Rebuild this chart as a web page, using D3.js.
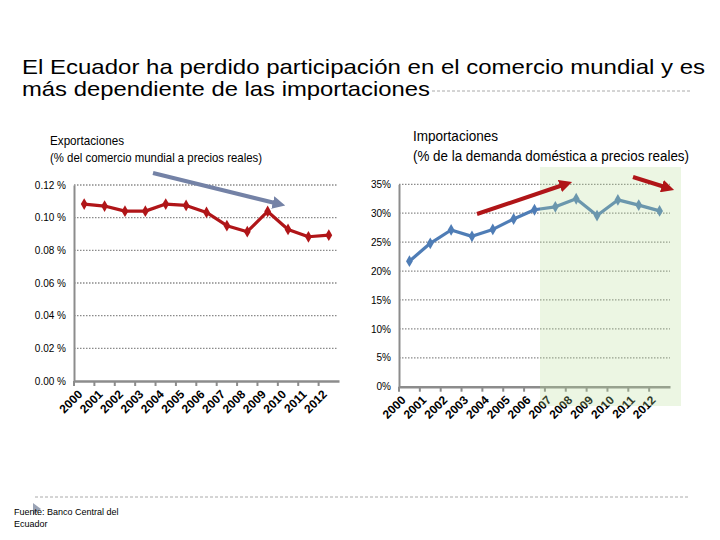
<!DOCTYPE html>
<html><head><meta charset="utf-8">
<script src="https://cdn.jsdelivr.net/npm/d3@7"></script>
<style>body{margin:0;background:#fff}svg{display:block;font-family:"Liberation Sans",Arial,sans-serif}</style>
</head><body><svg id="c" width="720" height="540"></svg>
<script>
const years = ["2000","2001","2002","2003","2004","2005","2006","2007","2008","2009","2010","2011","2012"];
const exportShare = [0.1083,0.1071,0.1040,0.1040,0.1083,0.1075,0.1032,0.0951,0.0914,0.1038,0.0928,0.0883,0.0893];
const importShare = [21.7,24.8,27.1,26.0,27.2,29.0,30.6,31.1,32.5,29.6,32.3,31.4,30.4];
const leftTicks = [0,0.02,0.04,0.06,0.08,0.10,0.12];
const rightTicks = [0,5,10,15,20,25,30,35];
const titleLines = ["El Ecuador ha perdido participación en el comercio mundial y es","más dependiente de las importaciones"];
const titleWidths = [683,408];
const sourceLines = ["Fuente: Banco Central del","Ecuador"];

const svg = d3.select("#c");
const defs = svg.append("defs");
function marker(id,color){
  defs.append("marker").attr("id",id).attr("viewBox","0 0 10 10").attr("refX",5).attr("refY",5)
    .attr("markerWidth",3.2).attr("markerHeight",3.2).attr("orient","auto")
    .append("path").attr("d","M0,0L10,5L0,10z").attr("fill",color);
}
marker("ag","#7482a6"); marker("ar","#b01518");

// Title
svg.selectAll(".tt").data(titleLines).join("text").attr("x",22).attr("y",(d,i)=>74+i*22)
  .attr("font-size",21).attr("fill","#000")
  .attr("textLength",(d,i)=>titleWidths[i]).attr("lengthAdjust","spacingAndGlyphs").text(d=>d);
svg.append("line").attr("x1",432).attr("x2",690).attr("y1",91).attr("y2",91).attr("stroke","#aaa").attr("stroke-dasharray","3,2");
svg.append("line").attr("x1",35).attr("x2",690).attr("y1",497).attr("y2",497).attr("stroke","#aaa").attr("stroke-dasharray","3,2");

// Source
svg.append("path").attr("d","M33,503L41,509L33,515z").attr("fill","#9aa3b5");
svg.selectAll(".src").data(sourceLines).join("text").attr("x",14).attr("y",(d,i)=>515+i*12)
  .attr("font-size",9).attr("fill","#000").text(d=>d);

// Subtitles
svg.append("text").attr("x",50).attr("y",145).attr("font-size",13).attr("textLength",74).attr("lengthAdjust","spacingAndGlyphs").text("Exportaciones");
svg.append("text").attr("x",50).attr("y",162).attr("font-size",13).attr("textLength",212).attr("lengthAdjust","spacingAndGlyphs").text("(% del comercio mundial a precios reales)");
svg.append("text").attr("x",413).attr("y",141).attr("font-size",15).attr("textLength",85).attr("lengthAdjust","spacingAndGlyphs").text("Importaciones");
svg.append("text").attr("x",413).attr("y",161).attr("font-size",14).attr("textLength",276).attr("lengthAdjust","spacingAndGlyphs").text("(% de la demanda doméstica a precios reales)");

function chart(opts){
  const {x0,x1,yTop,yBot,gridEnd,ymax,ticks,fmt,values,color,labelX} = opts;
  const x = d3.scaleBand().domain(years).range([x0,x1]);
  const y = d3.scaleLinear().domain([0,ymax]).range([yBot,yTop]);
  const g = svg.append("g");
  g.selectAll(".grid").data(ticks.filter(t=>t>0)).join("line")
    .attr("x1",x0).attr("x2",gridEnd).attr("y1",d=>y(d)).attr("y2",d=>y(d))
    .attr("stroke","#8a8a8a").attr("stroke-width",1.3).attr("stroke-dasharray","1.5,1.5");
  const ya = d3.axisLeft(y).tickValues(ticks).tickFormat(fmt).tickSize(0).tickPadding(8);
  const yg = g.append("g").attr("transform",`translate(${x0},0)`).call(ya);
  yg.select(".domain").attr("stroke","#8c8c8c").attr("stroke-width",2);
  yg.selectAll("text").attr("font-size",10).attr("font-family","Liberation Sans, Arial").attr("fill","#000");
  const xa = d3.axisBottom(x).tickSize(5).tickSizeOuter(0).tickFormat(d=>d);
  const xg = g.append("g").attr("transform",`translate(0,${yBot})`).call(xa);
  xg.select(".domain").attr("stroke","#8c8c8c").attr("stroke-width",2.5);
  xg.selectAll(".tick line").attr("stroke","#8c8c8c").attr("stroke-width",2).attr("transform",`translate(${-x.bandwidth()/2},0)`);
  xg.selectAll(".tick text").attr("font-size",12).attr("font-weight","bold").attr("fill","#000")
    .attr("text-anchor","end").attr("dy",0).attr("y",0)
    .attr("transform",`translate(${labelX},14) rotate(-45)`);
  const line = d3.line().x((d,i)=>x(years[i])+x.bandwidth()/2).y(d=>y(d));
  g.append("path").datum(values).attr("d",line).attr("fill","none").attr("stroke",color).attr("stroke-width",3.2).attr("stroke-linejoin","round");
  g.selectAll(".pt").data(values).join("path")
    .attr("d",d3.symbol(d3.symbolDiamond,40)())
    .attr("transform",(d,i)=>`translate(${x(years[i])+x.bandwidth()/2},${y(d)})`).attr("fill",color);
  return {x,y};
}

chart({x0:74,x1:339,yTop:185,yBot:381,gridEnd:338,ymax:0.12,ticks:leftTicks,
  fmt:d=>d3.format(".2f")(d)+" %",values:exportShare,color:"#b01518",labelX:-1});
chart({x0:399,x1:670,yTop:184.3,yBot:386.7,gridEnd:670,ymax:35,ticks:rightTicks,
  fmt:d=>d+"%",values:importShare,color:"#4f7db6",labelX:-3});

// green highlight
svg.append("rect").attr("x",540).attr("y",167).attr("width",141).attr("height",239)
  .attr("fill","#b8dc98").attr("opacity",0.27);

// arrows
svg.append("line").attr("x1",153).attr("y1",173).attr("x2",279).attr("y2",204)
  .attr("stroke","#7482a6").attr("stroke-width",4).attr("marker-end","url(#ag)");
svg.append("line").attr("x1",477).attr("y1",214).attr("x2",566).attr("y2",184)
  .attr("stroke","#b01518").attr("stroke-width",4).attr("marker-end","url(#ar)");
svg.append("line").attr("x1",633).attr("y1",177).attr("x2",668).attr("y2",188)
  .attr("stroke","#b01518").attr("stroke-width",4).attr("marker-end","url(#ar)");
</script></body></html>
